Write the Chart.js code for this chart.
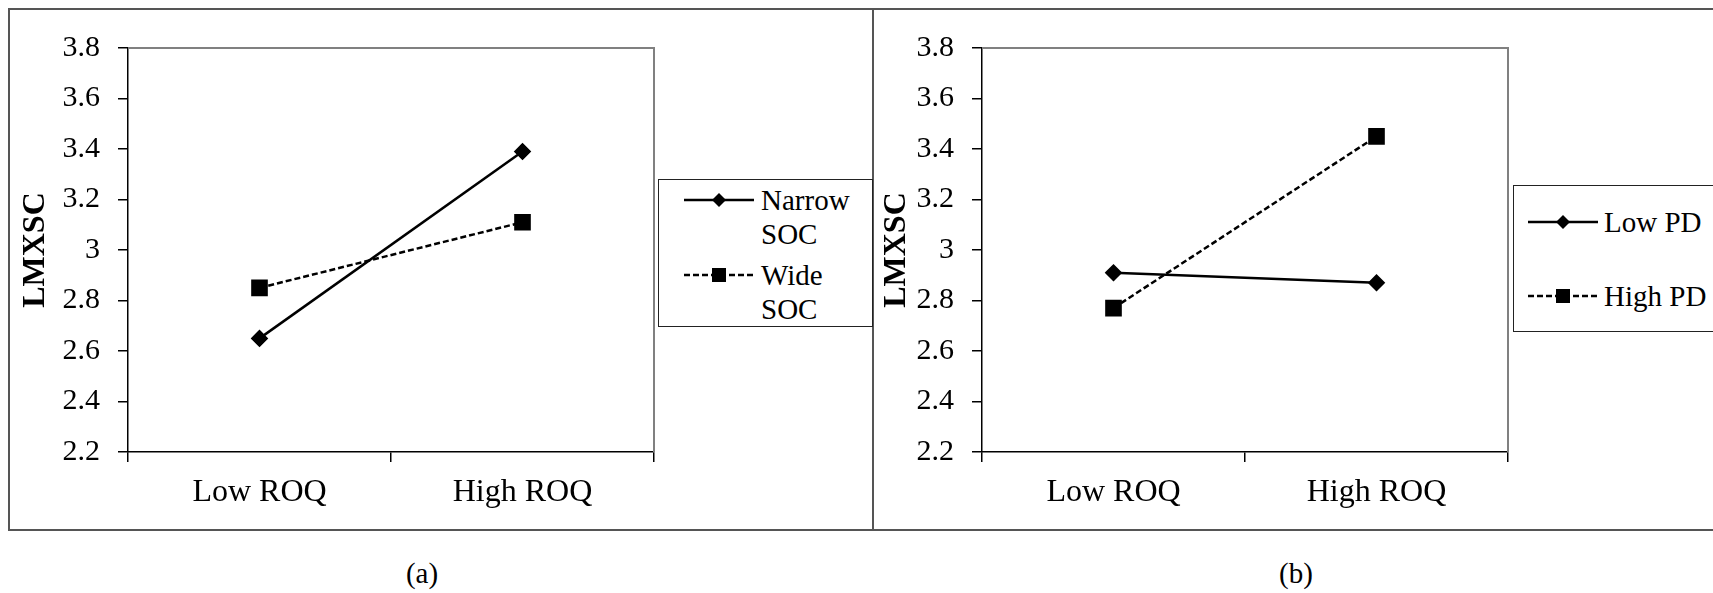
<!DOCTYPE html>
<html>
<head>
<meta charset="utf-8">
<script src="https://cdn.jsdelivr.net/npm/chart.js@4.4.1/dist/chart.umd.min.js"></script>
<style>
    body { margin: 0; background: #fff; font-family: "Liberation Serif", "Times New Roman", serif; color: #000; }
    #page { position: relative; width: 1713px; height: 593px; overflow: hidden; }
    .line { position: absolute; background: #555; }
    canvas { position: absolute; top: 0; }
    .legend { position: absolute; border: 1.5px solid #222; box-sizing: border-box; background: #fff; }
    .sym { position: absolute; }
    .txt { position: absolute; font-size: 29px; line-height: 34px; white-space: normal; }
    .cap { position: absolute; font-size: 29px; width: 80px; text-align: center; }
</style>
</head>
<body>
<div id="page">
    <canvas id="chartA" width="873" height="545" style="left:0px"></canvas>
    <canvas id="chartB" width="840" height="545" style="left:873px"></canvas>

    <div class="line" style="left:8px; top:8px; width:1705px; height:1.5px"></div>
    <div class="line" style="left:8px; top:529px; width:1705px; height:1.5px"></div>
    <div class="line" style="left:8px; top:8px; width:1.5px; height:522px"></div>
    <div class="line" style="left:872px; top:8px; width:1.5px; height:522px"></div>

    <div class="legend" id="legendA" style="left:658px; top:179px; width:215px; height:148px"></div>
    <div class="legend" id="legendB" style="left:1513px; top:185px; width:220px; height:147px"></div>

    <div class="cap" style="left:382px; top:557px">(a)</div>
    <div class="cap" style="left:1256px; top:557px">(b)</div>
</div>
<script>
const categories = ["Low ROQ", "High ROQ"];
const seriesA = ["Narrow SOC", "Wide SOC"];
const narrowSoc = [2.65, 3.39];
const wideSoc = [2.85, 3.11];
const seriesB = ["Low PD", "High PD"];
const lowPd = [2.91, 2.87];
const highPd = [2.77, 3.45];
const yMin = 2.2;
const yMax = 3.8;
const yStep = 0.2;
const yTitle = "LMXSC";

const fontFamily = "'Liberation Serif', 'Times New Roman', serif";

// grey frame on top and right of the plot area (left/bottom are the black axes)
let plotBox = {
    id: "plotBox",
    beforeDatasetsDraw: (chart) => {
        var a = chart.chartArea;
        var ctx = chart.ctx;
        ctx.save();
        ctx.strokeStyle = "#808080";
        ctx.lineWidth = 2;
        ctx.beginPath();
        ctx.moveTo(a.left, a.top);
        ctx.lineTo(a.right, a.top);
        ctx.lineTo(a.right, a.bottom);
        ctx.stroke();
        ctx.restore();
    },
};

let makeChart = (id, names, solid, dashed, yAxisWidth, titlePad, padRight) => {
    var ctx = document.getElementById(id).getContext("2d");
    return new Chart(ctx, {
        type: "line",
        data: {
            labels: categories,
            datasets: [
                {
                    label: names[0],
                    data: solid,
                    borderColor: "#000",
                    backgroundColor: "#000",
                    borderWidth: 2.5,
                    pointStyle: "rectRot",
                    pointRadius: 7,
                    pointBackgroundColor: "#000",
                    pointBorderColor: "#000",
                },
                {
                    label: names[1],
                    data: dashed,
                    borderColor: "#000",
                    backgroundColor: "#000",
                    borderWidth: 2.5,
                    borderDash: [6, 3],
                    pointStyle: "rect",
                    pointRadius: 10,
                    pointBackgroundColor: "#000",
                    pointBorderColor: "#000",
                },
            ],
        },
        options: {
            responsive: false,
            animation: false,
            events: [],
            layout: {
                padding: { top: 48, right: padRight, bottom: 13, left: 0 },
            },
            plugins: {
                legend: { display: false },
                tooltip: { enabled: false },
            },
            scales: {
                x: {
                    type: "category",
                    offset: true,
                    grid: { offset: true, drawOnChartArea: false, tickLength: 10, color: "#000", lineWidth: 1.5 },
                    border: { color: "#000", width: 1.5 },
                    ticks: { color: "#000", font: { family: fontFamily, size: 32 }, padding: 11 },
                    afterFit: (scale) => { scale.height = 80; },
                },
                y: {
                    min: yMin,
                    max: yMax,
                    grid: { drawOnChartArea: false, tickLength: 10, color: "#000", lineWidth: 1.5 },
                    border: { color: "#000", width: 1.5 },
                    ticks: {
                        stepSize: yStep,
                        color: "#000",
                        font: { family: fontFamily, size: 30 },
                        padding: 18,
                        callback: (v) => String(Number(v.toFixed(1))),
                    },
                    title: {
                        display: true,
                        text: yTitle,
                        color: "#000",
                        font: { family: fontFamily, size: 32, weight: "bold" },
                        padding: { top: titlePad, bottom: 0 },
                    },
                    afterFit: (scale) => { scale.width = yAxisWidth; },
                },
            },
        },
        plugins: [plotBox],
    });
};

let diamondSvg = () =>
    '<svg width="70" height="20"><line x1="0" y1="10" x2="70" y2="10" stroke="#000" stroke-width="2.5"/>' +
    '<polygon points="35,3 42,10 35,17 28,10" fill="#000"/></svg>';
let squareSvg = () =>
    '<svg width="70" height="20"><line x1="0" y1="10" x2="70" y2="10" stroke="#000" stroke-width="2.5" stroke-dasharray="6,3"/>' +
    '<rect x="28" y="3" width="14" height="14" fill="#000"/></svg>';

// legend entries, positions relative to the legend box
let fillLegend = (id, names, rows, symLeft, txtLeft, txtWidth) => {
    var box = document.getElementById(id);
    var html = "";
    names.forEach((name, i) => {
        var sym = i === 0 ? diamondSvg() : squareSvg();
        html += '<div class="sym" style="left:' + symLeft + "px; top:" + (rows[i] - 10) + 'px">' + sym + "</div>";
        html += '<div class="txt" style="left:' + txtLeft + "px; top:" + (rows[i] - 17) + "px; width:" + txtWidth + 'px">' + name + "</div>";
    });
    box.innerHTML = html;
};

makeChart("chartA", seriesA, narrowSoc, wideSoc, 128, 17, 219);
makeChart("chartB", seriesB, lowPd, highPd, 109, 5, 205);
fillLegend("legendA", seriesA, [20, 95], 25, 102, 108);
fillLegend("legendB", seriesB, [36, 110], 14, 90, 130);
</script>
</body>
</html>
